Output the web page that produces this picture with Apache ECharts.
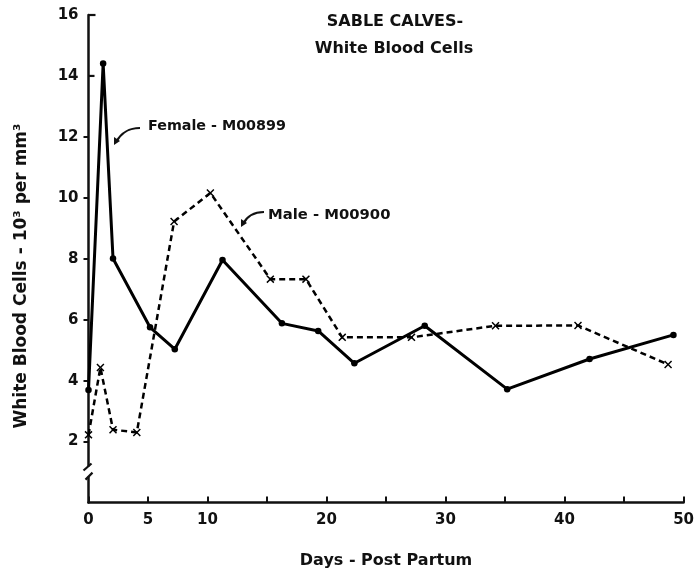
<!DOCTYPE html>
<html>
<head>
<meta charset="utf-8">
<script src="https://cdn.jsdelivr.net/npm/echarts@6/dist/echarts.min.js"></script>
<style>html,body{margin:0;padding:0;background:#fff}#c{width:697px;height:576px}</style>
</head>
<body>
<div id="c"></div>
<script>
// Female - M00899 (solid line, dots): [day, WBC x10^3/mm3]
var femaleDays   = [0, 1.23, 2.06, 5.17, 7.25, 11.26, 16.25, 19.3, 22.34, 28.25, 35.18, 42.1, 49.15];
var femaleValues = [3.69, 14.41, 8.01, 5.75, 5.03, 7.96, 5.88, 5.63, 4.57, 5.80, 3.72, 4.71, 5.5];
// Male - M00900 (dashed line, x marks)
var maleDays   = [0, 1.0, 2.06, 4.06, 7.19, 10.24, 15.28, 18.27, 21.32, 27.14, 34.2, 41.13, 48.7];
var maleValues = [2.22, 4.43, 2.39, 2.30, 9.22, 10.16, 7.33, 7.33, 5.42, 5.42, 5.80, 5.81, 4.53];
var xTickLabels = [0, 5, 10, 20, 30, 40, 50];
var yTickLabels = [2, 4, 6, 8, 10, 12, 14, 16];

function zip(a, b) { return a.map(function (v, i) { return [v, b[i]]; }); }

var FONT = 'DejaVu Sans';
var xMark = 'path://M0,1.3L1.3,0L5,3.7L8.7,0L10,1.3L6.3,5L10,8.7L8.7,10L5,6.3L1.3,10L0,8.7L3.7,5Z';

var chart = echarts.init(document.getElementById('c'));
chart.setOption({
  animation: false,
  backgroundColor: '#fff',
  grid: { left: 88.5, right: 7, top: 15, bottom: 73.5, containLabel: false },
  xAxis: {
    type: 'value', min: 0, max: 50, interval: 5,
    name: 'Days - Post Partum', nameLocation: 'middle', nameGap: 50,
    nameTextStyle: { fontFamily: FONT, fontWeight: 'bold', fontSize: 16, color: '#111' },
    axisLine: { lineStyle: { color: '#111', width: 2.5 } },
    axisTick: { inside: true, length: 6, lineStyle: { color: '#111', width: 2 } },
    axisLabel: {
      fontFamily: FONT, fontWeight: 'bold', fontSize: 15, color: '#111', margin: 10,
      formatter: function (v) { return xTickLabels.indexOf(v) >= 0 ? String(v) : ''; }
    },
    splitLine: { show: false }
  },
  yAxis: {
    type: 'value', min: 0, max: 16, interval: 2,
    axisLine: { show: true, lineStyle: { color: '#111', width: 2.5 } },
    axisTick: { show: true, length: 5, lineStyle: { color: '#111', width: 2 },
      customValues: [2, 4, 6, 8, 10, 12] },
    axisLabel: {
      fontFamily: FONT, fontWeight: 'bold', fontSize: 15, color: '#111', margin: 10,
      formatter: function (v) { return yTickLabels.indexOf(v) >= 0 ? String(v) : ''; }
    },
    splitLine: { show: false }
  },
  series: [
    {
      name: 'Female - M00899', type: 'line', data: zip(femaleDays, femaleValues),
      symbol: 'circle', symbolSize: 6.5, showAllSymbol: true,
      lineStyle: { color: '#000', width: 3 }, itemStyle: { color: '#000' }, z: 3
    },
    {
      name: 'Male - M00900', type: 'line', data: zip(maleDays, maleValues),
      symbol: xMark, symbolSize: 8, showAllSymbol: true,
      lineStyle: { color: '#000', width: 2.5, type: [6, 4] }, itemStyle: { color: '#000' }, z: 2
    }
  ]
});

// decorations: axis break, ticks at 14/16 (inside), title, y-axis name and annotations
var ax = chart.convertToPixel({ gridIndex: 0 }, [0, 0])[0];
var yB1 = chart.convertToPixel({ gridIndex: 0 }, [0, 1.18])[1];
var yB2 = chart.convertToPixel({ gridIndex: 0 }, [0, 0.85])[1];
var y14 = chart.convertToPixel({ gridIndex: 0 }, [0, 14])[1];
var y16 = chart.convertToPixel({ gridIndex: 0 }, [0, 16])[1];
var stroke = { stroke: '#111', lineWidth: 2.2, fill: null };
var txt = function (x, y, s, size, align) {
  return { type: 'text', x: x, y: y, z: 100,
    style: { text: s, fontFamily: FONT, fontWeight: 'bold', fontSize: size, fill: '#111',
      textAlign: align || 'left', textVerticalAlign: 'top' } };
};
chart.setOption({
  graphic: [
    { type: 'rect', z: 90, shape: { x: ax - 4, y: yB1, width: 8, height: yB2 - yB1 }, style: { fill: '#fff' } },
    { type: 'line', z: 95, shape: { x1: ax - 5, y1: yB1 + 4, x2: ax + 3, y2: yB1 - 3 }, style: stroke },
    { type: 'line', z: 95, shape: { x1: ax - 3, y1: yB2 + 3, x2: ax + 4, y2: yB2 - 4 }, style: stroke },
    { type: 'line', z: 95, shape: { x1: ax, y1: y14, x2: ax + 6, y2: y14 }, style: stroke },
    { type: 'line', z: 95, shape: { x1: ax, y1: y16, x2: ax + 7, y2: y16 }, style: stroke },
    txt(395, 14, 'SABLE CALVES-', 16, 'center'),
    txt(394, 41, 'White Blood Cells', 16, 'center'),
    txt(148, 119, 'Female - M00899', 14.3),
    txt(268, 208, 'Male - M00900', 14.8),
    { type: 'text', x: 22, y: 276, rotation: Math.PI / 2, z: 100,
      style: { text: 'White Blood Cells - 10³ per mm³', fontFamily: FONT, fontWeight: 'bold', fontSize: 17,
        fill: '#111', textAlign: 'center', textVerticalAlign: 'middle' } },
    { type: 'bezierCurve', z: 95, shape: { x1: 140, y1: 128, x2: 116, y2: 142, cpx1: 126, cpy1: 128, cpx2: 120, cpy2: 135 }, style: stroke },
    { type: 'polygon', z: 95, shape: { points: [[114, 145], [114, 137], [120, 141]] }, style: { fill: '#111' } },
    { type: 'bezierCurve', z: 95, shape: { x1: 264, y1: 212, x2: 243, y2: 224, cpx1: 252, cpy1: 212, cpx2: 246, cpy2: 218 }, style: stroke },
    { type: 'polygon', z: 95, shape: { points: [[241, 227], [241, 219], [247, 223]] }, style: { fill: '#111' } }
  ]
});
</script>
</body>
</html>
